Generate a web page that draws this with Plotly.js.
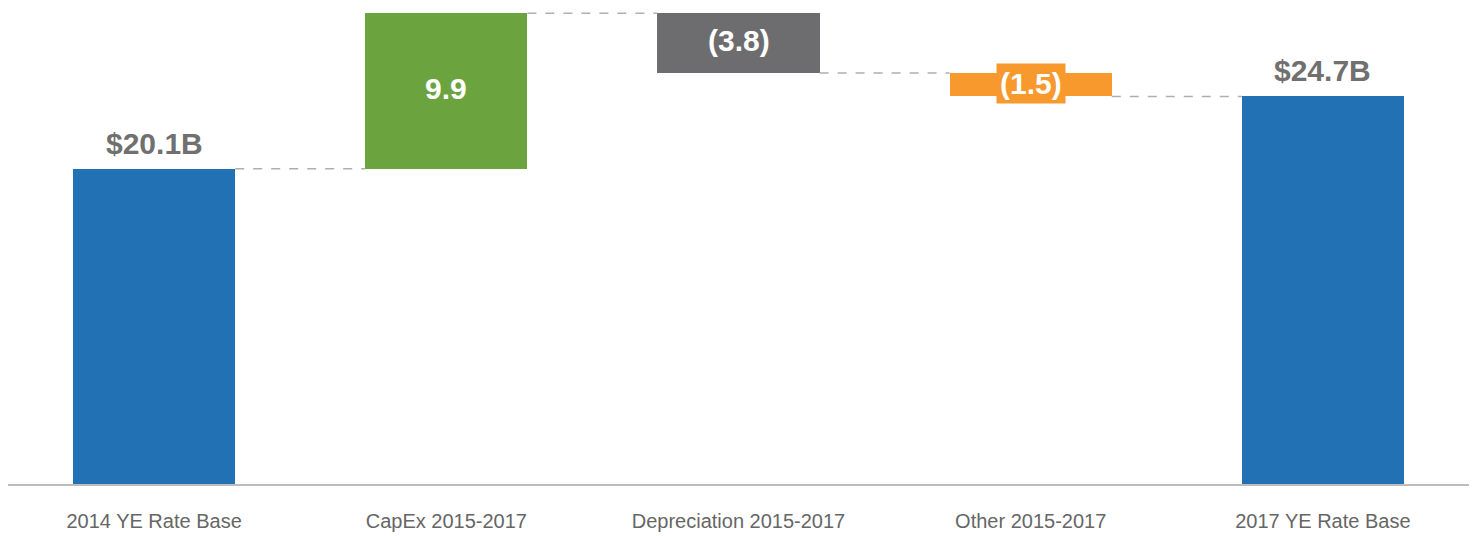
<!DOCTYPE html>
<html>
<head>
<meta charset="utf-8">
<script src="https://cdn.plot.ly/plotly-3.0.1.min.js"></script>
<style>html,body{margin:0;padding:0;background:#fff;}#chart{width:1477px;height:536px;}</style>
</head>
<body>
<div id="chart"></div>
<script>
const categories = ["2014 YE Rate Base", "CapEx 2015-2017", "Depreciation 2015-2017", "Other 2015-2017", "2017 YE Rate Base"];
const values = [20.1, 9.9, -3.8, -1.5, 24.7];
const kinds = ["total", "delta", "delta", "delta", "total"];
const labels = ["$20.1B", "9.9", "(3.8)", "(1.5)", "$24.7B"];
const colors = ["#2271B5", "#6BA43F", "#6D6D6F", "#F7992C", "#2271B5"];

const BAR_W = 0.555;
const xs = categories.map((c, i) => i);
const bases = [], heights = [], tops = [];
let run = 0;
values.forEach((v, i) => {
  if (kinds[i] === "total") {
    bases.push(0); heights.push(v); run = v;
  } else {
    const next = run + v;
    bases.push(Math.min(run, next)); heights.push(Math.abs(v)); run = next;
  }
  tops.push(run);
});

const trace = {
  type: "bar", x: xs, y: heights, base: bases, width: BAR_W,
  marker: {color: colors, line: {width: 0}}, hoverinfo: "skip", showlegend: false
};

const shapes = [];
for (let i = 0; i < xs.length - 1; i++) {
  shapes.push({type: "line", xref: "x", yref: "y",
    x0: xs[i] + BAR_W / 2, x1: xs[i + 1] - BAR_W / 2, y0: tops[i], y1: tops[i],
    line: {color: "#AFAFAF", width: 1.5, dash: "dash"}});
}

const annotations = xs.map((x, i) => {
  if (kinds[i] === "total") {
    return {x: x, y: bases[i] + heights[i], xref: "x", yref: "y", text: labels[i],
      showarrow: false, yanchor: "bottom", yshift: 7,
      font: {family: "Liberation Sans, Arial, sans-serif", size: 30, color: "#707070", weight: "bold"}};
  }
  const a = {x: x, y: bases[i] + heights[i] / 2, xref: "x", yref: "y", text: labels[i],
    showarrow: false, yanchor: "middle", yshift: 3,
    font: {family: "Liberation Sans, Arial, sans-serif", size: 30, color: "#FFFFFF", weight: "bold"}};
  if (heights[i] < 2.5) { a.bgcolor = colors[i]; a.borderpad = 3; a.yshift = 1; }
  return a;
});

const layout = {
  width: 1477, height: 536,
  margin: {l: 8, r: 8, t: 0, b: 52},
  paper_bgcolor: "#FFFFFF", plot_bgcolor: "#FFFFFF",
  xaxis: {range: [-0.5, 4.5], tickvals: xs, ticktext: categories, showgrid: false, zeroline: false,
    showline: true, linecolor: "#BDBDBD", linewidth: 1.5, ticks: "", ticklabelstandoff: 18,
    tickfont: {family: "Liberation Sans, Arial, sans-serif", size: 20, color: "#666666"}},
  yaxis: {range: [0, 30.85], visible: false, showgrid: false, zeroline: false},
  shapes: shapes, annotations: annotations, bargap: 0
};

Plotly.newPlot("chart", [trace], layout, {displayModeBar: false, staticPlot: true});
</script>
</body>
</html>
